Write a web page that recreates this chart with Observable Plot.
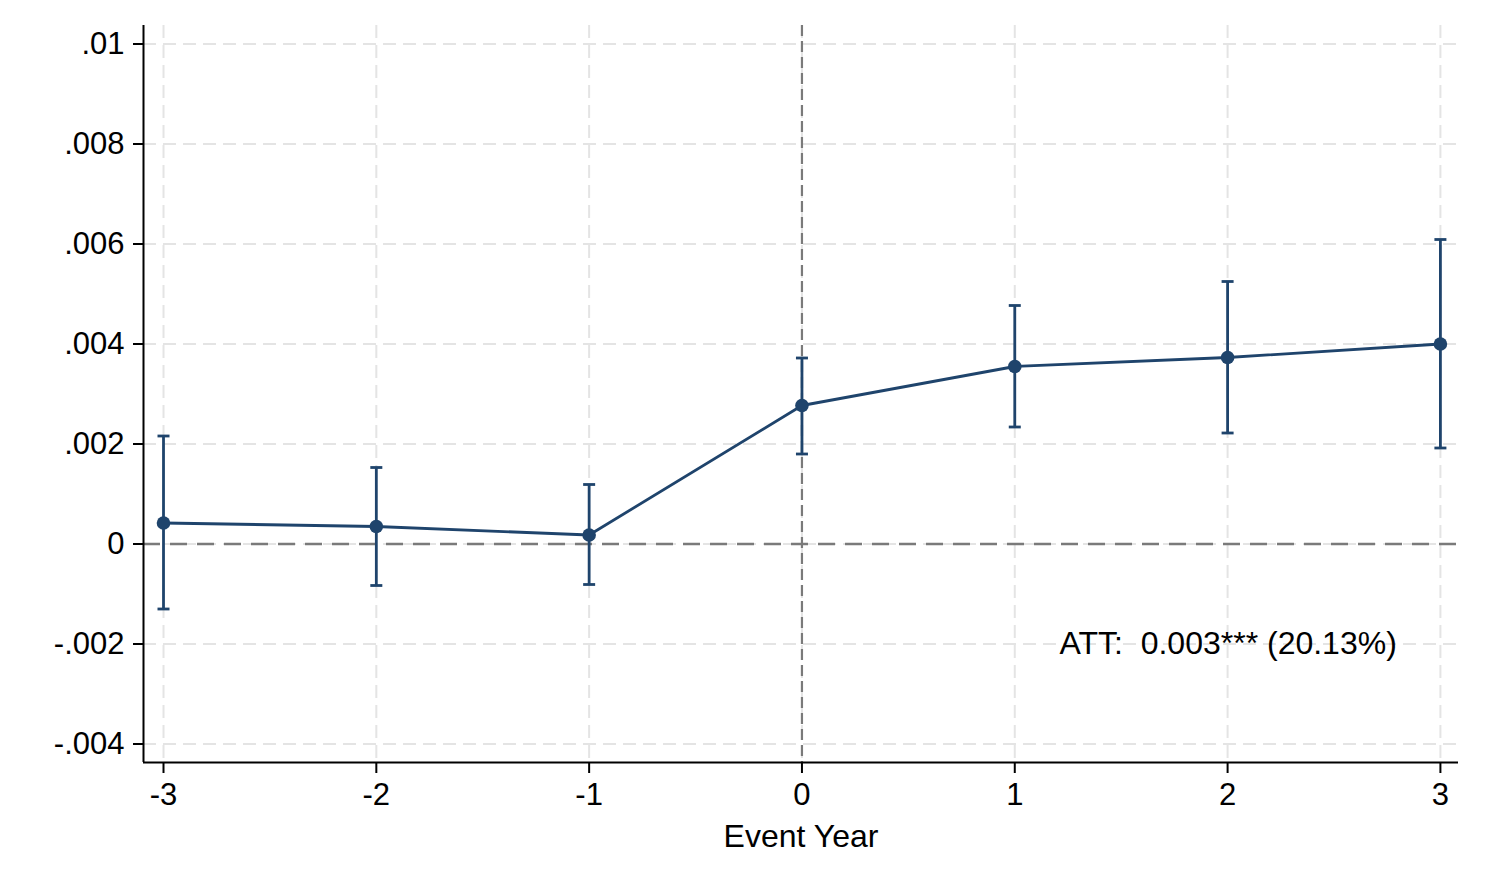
<!DOCTYPE html>
<html>
<head>
<meta charset="utf-8">
<script src="https://cdn.jsdelivr.net/npm/d3@7"></script>
<script src="https://cdn.jsdelivr.net/npm/@observablehq/plot@0.6"></script>
<style>
  html, body { margin: 0; padding: 0; background: #fff; }
  #chart svg { display: block; }
</style>
</head>
<body>
<div id="chart"></div>
<script>
const eventYears = [-3, -2, -1, 0, 1, 2, 3];
const estimates  = [0.00042, 0.00035, 0.00018, 0.00277, 0.00355, 0.00373, 0.00400];
const ciLow      = [-0.00130, -0.00083, -0.00081, 0.00180, 0.00234, 0.00222, 0.00192];
const ciHigh     = [0.00216, 0.00153, 0.00119, 0.00372, 0.00477, 0.00525, 0.00609];

const yTicks      = [0.01, 0.008, 0.006, 0.004, 0.002, 0, -0.002, -0.004];
const yTickLabels = [".01", ".008", ".006", ".004", ".002", "0", "-.002", "-.004"];
const xTicks      = [-3, -2, -1, 0, 1, 2, 3];
const xTickLabels = ["-3", "-2", "-1", "0", "1", "2", "3"];

const xDomain = [-3.094, 3.085];
const yDomain = [-0.00437, 0.01037];

const xLabel = "Event Year";
const attText = "ATT:\u00a0\u00a00.003*** (20.13%)";
const attPos = {x: 1.21, y: -0.002};

const data = eventYears.map((x, i) => ({x, est: estimates[i], lo: ciLow[i], hi: ciHigh[i]}));

const navy = "#1f446c";
const font = "'Liberation Sans', Arial, Helvetica, sans-serif";

// horizontal cap symbol (half-width = r)
const capSymbol = {
  draw(ctx, size) {
    const w = Math.sqrt(size / Math.PI);
    ctx.moveTo(-w, 0);
    ctx.lineTo(w, 0);
  }
};

const plot = Plot.plot({
  width: 1492,
  height: 869,
  marginTop: 25,
  marginBottom: 107,
  marginLeft: 143,
  marginRight: 34,
  style: {fontFamily: font, fontSize: "31px", color: "#000", background: "#fff"},
  x: {domain: xDomain},
  y: {domain: yDomain},
  marks: [
    Plot.gridY(yTicks, {stroke: "#e4e4e4", strokeOpacity: 1, strokeWidth: 2, strokeDasharray: "13,7"}),
    Plot.gridX(xTicks, {stroke: "#e4e4e4", strokeOpacity: 1, strokeWidth: 2, strokeDasharray: "13,7"}),
    Plot.ruleY([0], {stroke: "#7a7a7a", strokeWidth: 2.5, strokeDasharray: "17,10"}),
    Plot.ruleX([0], {stroke: "#7a7a7a", strokeWidth: 2.2, strokeDasharray: "11,5"}),
    Plot.ruleX([xDomain[0]], {stroke: "#000", strokeWidth: 2}),
    Plot.ruleY([yDomain[0]], {stroke: "#000", strokeWidth: 2}),
    Plot.axisY({ticks: yTicks, tickFormat: (d) => yTickLabels[yTicks.indexOf(d)], tickSize: 10, tickPadding: 9, label: null, strokeWidth: 2, fontSize: 31}),
    Plot.axisX({ticks: xTicks, tickFormat: (d) => xTickLabels[xTicks.indexOf(d)], tickSize: 11, tickPadding: 9, label: null, strokeWidth: 2, fontSize: 31}),
    Plot.ruleX(data, {x: "x", y1: "lo", y2: "hi", stroke: navy, strokeWidth: 2.8}),
    Plot.dot(data, {x: "x", y: "hi", symbol: capSymbol, r: 6, stroke: navy, strokeWidth: 2.8, fill: "none"}),
    Plot.dot(data, {x: "x", y: "lo", symbol: capSymbol, r: 6, stroke: navy, strokeWidth: 2.8, fill: "none"}),
    Plot.line(data, {x: "x", y: "est", stroke: navy, strokeWidth: 2.8}),
    Plot.dot(data, {x: "x", y: "est", r: 6.8, fill: navy, stroke: "none"}),
    Plot.text([attText], {x: attPos.x, y: attPos.y, textAnchor: "start", fontSize: 32, fill: "#000"}),
    Plot.text([xLabel], {frameAnchor: "bottom", dy: 84, fontSize: 32, fill: "#000"})
  ]
});

document.getElementById("chart").appendChild(plot);
</script>
</body>
</html>
